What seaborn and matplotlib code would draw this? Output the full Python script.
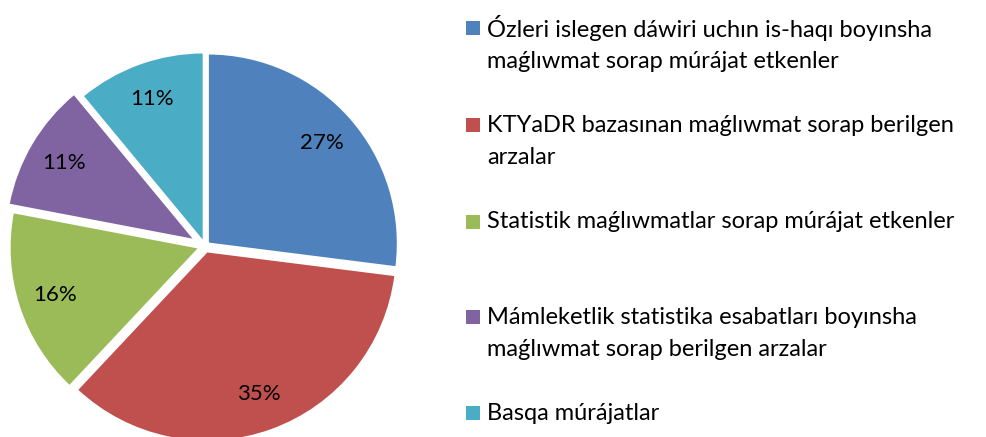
import numpy as np
import matplotlib
matplotlib.use("Agg")
import matplotlib.pyplot as plt
import seaborn as sns
from matplotlib.patches import Rectangle

sns.set_theme(style="white")
plt.rcParams['font.family'] = ['Lato', 'DejaVu Sans']

# Data
categories = [
    "Ózleri islegen dáwiri uchın is-haqı boyınsha\nmaǵlıwmat sorap múrájat etkenler",
    "KTYaDR bazasınan maǵlıwmat sorap berilgen\narzalar",
    "Statistik maǵlıwmatlar sorap múrájat etkenler",
    "Mámleketlik statistika esabatları boyınsha\nmaǵlıwmat sorap berilgen arzalar",
    "Basqa múrájatlar",
]
shares = [27, 35, 16, 11, 11]
colors = ['#4F81BD', '#C0504D', '#9BBB59', '#8064A2', '#4BACC6']

W, H = 986, 437
fig = plt.figure(figsize=(W / 100, H / 100), dpi=100)

# Pie axes: centre ~ (205, 246) px, radius ~ 190 px
cx, cy, r = 205, 246, 190
ax = fig.add_axes([(cx - r) / W, (H - cy - r) / H, 2 * r / W, 2 * r / H])

explode = [0.02, 0.03, 0.03, 0.06, 0.02]
wedges, texts, autotexts = ax.pie(
    shares, colors=colors, startangle=90, counterclock=False,
    explode=explode, radius=1.0,
    autopct=lambda p: f"{p:.0f}%", pctdistance=0.8,
    wedgeprops=dict(edgecolor='white', linewidth=1.5),
    textprops=dict(fontsize=16, color='black'),
)
ax.set_xlim(-1, 1)
ax.set_ylim(-1, 1)
ax.set_aspect('equal')
ax.axis('off')
for w in wedges:
    w.set_clip_on(False)

# Legend drawn by hand so that squares align with the first text line
item_tops = [28, 125, 222, 317, 413]
line_gap = 33
for lab, col, y in zip(categories, colors, item_tops):
    fig.patches.append(Rectangle((466 / W, 1 - (y + 7) / H), 14 / W, 14 / H,
                                 transform=fig.transFigure, facecolor=col,
                                 edgecolor='none'))
    for k, line in enumerate(lab.split("\n")):
        fig.text(487 / W, 1 - (y + k * line_gap) / H, line, fontsize=17,
                 ha='left', va='center', color='black')

fig.savefig("out.png", dpi=100)
